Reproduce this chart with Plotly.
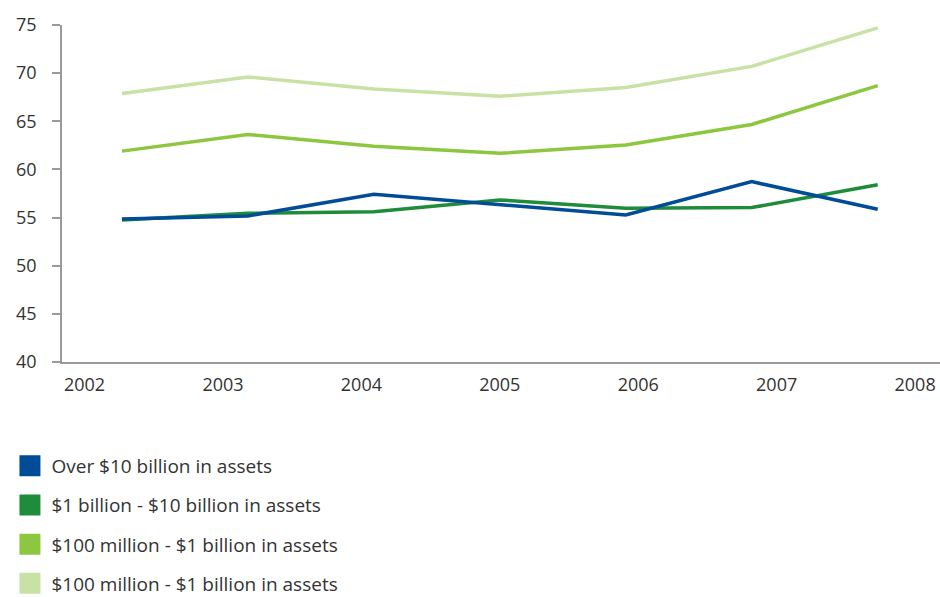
import plotly.graph_objects as go

# survey points (positioned between year labels as in the source)
x_points = [2002.27, 2003.18, 2004.09, 2005.0, 2005.91, 2006.82, 2007.73]
year_ticks = [2002, 2003, 2004, 2005, 2006, 2007, 2008]

over_10b = [54.85, 55.17, 57.42, 56.35, 55.28, 58.73, 55.87]
b1_10b = [54.76, 55.45, 55.6, 56.83, 55.97, 56.04, 58.4]
m100_1b_a = [61.9, 63.63, 62.42, 61.67, 62.53, 64.67, 68.7]
m100_1b_b = [67.88, 69.6, 68.35, 67.6, 68.5, 70.7, 74.7]

series_names = [
    "Over $10 billion in assets",
    "$1 billion - $10 billion in assets",
    "$100 million - $1 billion in assets",
    "$100 million - $1 billion in assets",
]
series_values = [over_10b, b1_10b, m100_1b_a, m100_1b_b]
colors = ["#004c97", "#1f8c3b", "#8dc63f", "#c7e2a4"]

FONT = "Open Sans"
fig = go.Figure()

# draw lines (lightest at back)
for name, vals, col in reversed(list(zip(series_names, series_values, colors))):
    fig.add_trace(go.Scatter(x=x_points, y=vals, mode="lines", name=name,
                             line=dict(color=col, width=3.5), showlegend=False))

# legend entries with square swatches
for i, (name, col) in enumerate(zip(series_names, colors)):
    fig.add_trace(go.Scatter(x=[None], y=[None], mode="markers", name=name,
                             legendgroup=f"g{i}",
                             marker=dict(symbol="square", size=16, color=col,
                                         line=dict(color=col, width=5))))

fig.update_layout(
    width=940, height=597,
    margin=dict(l=62, r=0, t=24.5, b=234.5, autoexpand=False),
    paper_bgcolor="white", plot_bgcolor="white",
    font=dict(family=FONT, size=18, color="#333333"),
    showlegend=True,
    legend=dict(xref="paper", yref="paper", x=-0.061, y=-0.252,
                xanchor="left", yanchor="top",
                font=dict(family=FONT, size=19, color="#333333"),
                tracegroupgap=11.5, itemwidth=33, bgcolor="rgba(0,0,0,0)"),
    xaxis=dict(range=[2001.837, 2008.18], tickmode="array", tickvals=year_ticks,
               ticktext=[str(y) for y in year_ticks], showgrid=False,
               zeroline=False, showline=True, linecolor="#9a9a9a", linewidth=1.5,
               ticks="", ticklabelstandoff=6,
               tickfont=dict(family=FONT, size=18, color="#333333")),
    yaxis=dict(range=[40, 75], tickmode="array", tickvals=list(range(40, 80, 5)),
               showgrid=False, zeroline=False, showline=True, linecolor="#9a9a9a",
               linewidth=1.5, ticks="outside", ticklen=8, tickcolor="#9a9a9a",
               tickwidth=1.5, ticklabelstandoff=12,
               tickfont=dict(family=FONT, size=18, color="#333333")),
)

# remove the page's default body margin so the figure fills the window exactly
fig.write_html("out.html",
               config={"displayModeBar": False},
               post_script="document.body.style.margin='0';"
                           "document.body.style.overflow='hidden';")
